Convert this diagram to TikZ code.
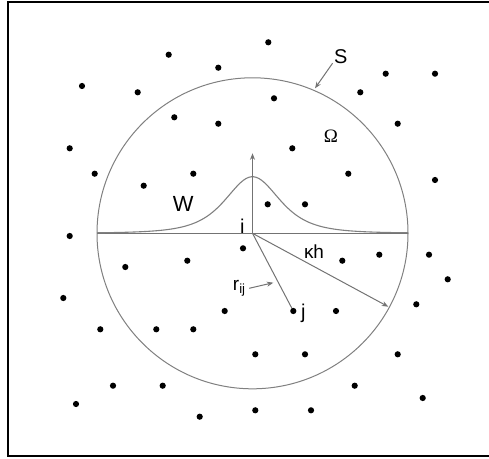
\documentclass[tikz,border=0pt]{standalone}
\usepackage{fontspec}
\setmainfont{Liberation Sans}
\newfontfamily\greekserif{Liberation Serif}
\usetikzlibrary{arrows.meta}

\begin{document}
\begin{tikzpicture}[x=1bp, y=-1bp, line width=1bp,
    lbl/.style={font=\fontsize{20}{24}\selectfont, inner sep=0pt},
    grayline/.style={draw=black!55},
    tip/.style={-{Stealth[length=6.5bp, width=5bp]}}]
  \useasboundingbox (0,0) rectangle (489,459);
  % Rahmen (rechte Kante ausserhalb)
  \draw[line width=2.2bp] (8.3,2.1) rectangle (495,455.8);
  % Mittelpunkt, Radius
  \def\rad{155.5}
  \coordinate (O) at (252.5,233.3);
  \coordinate (L) at (97,233.3);
  \coordinate (R) at (408,233.3);
  \coordinate (T) at (252.5,153.3);
  \coordinate (J) at (293.3,311);
  \coordinate (K) at (388.3,306.7);
  % Stuetzbereich
  \draw[black!50] (O) circle (\rad);
  \draw[grayline] (L) -- (R);
  % Kern W
  \draw[black!50, line width=1.1bp] plot[domain=-155.5:155.5, samples=120, smooth]
    ({252.5+\x}, {233.3-56.6/((1+(\x/50)^2)^2)});
  \draw[grayline, tip] (O) -- (T);
  % Abstaende
  \draw[grayline] (O) -- (J);
  \draw[grayline, tip] (O) -- (K);
  % Teilchen
  \foreach \px/\py in {268.3/42.3, 168.7/54.7, 218.3/67.7, 385.7/73.7, 435/73.7,
      82/86, 137.7/92.3, 360.3/92.3, 274/98.3, 174.3/117.3, 218.3/123.7,
      397.7/123.7, 69.7/148.3, 292.3/148.3, 94.7/173.7, 193.3/173.7,
      348.3/173.7, 435/180, 143.7/185.7, 267.7/204.3, 305/204.3, 69.7/236,
      243/248.3, 379.3/254.7, 429/254.7, 342.3/260.7, 187.3/260.7, 125.3/267,
      447.7/279.3, 63.3/298, 416.3/304.3, 224.7/311, 293.3/311, 336/311,
      100.3/329.3, 156.3/329.3, 193.3/329.3, 255.3/354.3, 305/354.3,
      397.7/354.3, 113/385.7, 162.7/385.7, 354.7/385.7, 422.7/398, 76/404,
      255.3/410.3, 311/410.3, 199.7/416.7}
    \fill (\px,\py) circle (3.1);
  % Beschriftungen
  \node[lbl] (S) at (340.7,56.7) {S};
  \coordinate (Sc) at (315,88.3);
  \draw[grayline, tip] (S.south west) ++(-1,-1) -- (Sc);
  \node[lbl, font=\fontsize{19}{22}\selectfont\greekserif] (Om) at (331,136.7) {Ω};
  \node[lbl, font=\fontsize{22}{26}\selectfont] (W) at (183.3,204) {W};
  \node[lbl] (i) at (242.3,226) {i};
  \node[lbl, font=\fontsize{19}{22}\selectfont] (kh) at (314,251.7) {κh};
  \node[lbl, font=\fontsize{19}{22}\selectfont] (r) at (239.3,288.3) {r\textsubscript{ij}};
  \coordinate (rt) at (273.3,282.7);
  \draw[grayline, tip] (r.east) ++(3,0) -- (rt);
  \node[lbl] (j) at (303.3,313.3) {j};
\end{tikzpicture}
\end{document}
